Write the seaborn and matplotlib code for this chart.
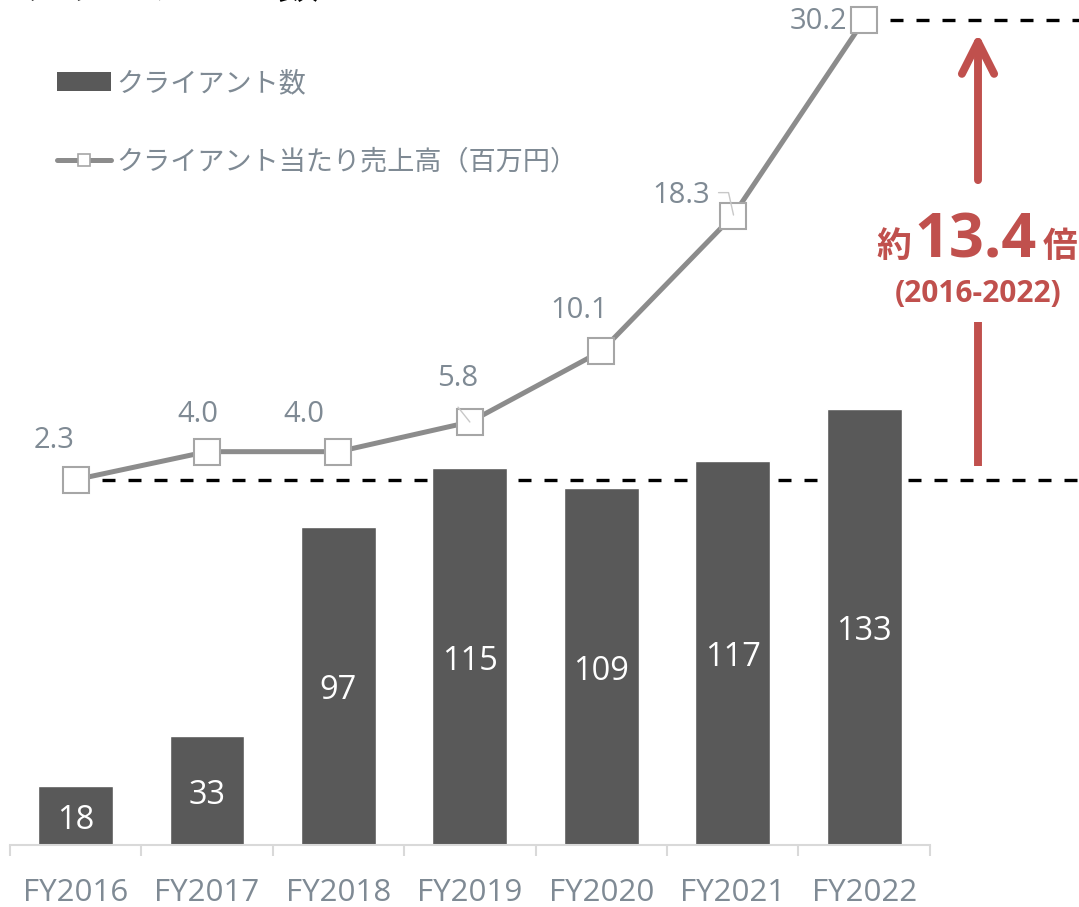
import numpy as np
import pandas as pd
import matplotlib
matplotlib.use("Agg")
import matplotlib.pyplot as plt
import matplotlib.transforms as mtransforms
from matplotlib.patches import Patch
from matplotlib.lines import Line2D
import seaborn as sns

# ---- data ----
fiscal_years = ["FY2016", "FY2017", "FY2018", "FY2019", "FY2020", "FY2021", "FY2022"]
client_counts = [18, 33, 97, 115, 109, 117, 133]
revenue_per_client = [2.3, 4.0, 4.0, 5.8, 10.1, 18.3, 30.2]  # 百万円
revenue_labels = ["2.3", "4.0", "4.0", "5.8", "10.1", "18.3", "30.2"]

title_text = "クライアント数"
bar_series_name = "クライアント数"
line_series_name = "クライアント当たり売上高（百万円）"
growth_prefix = "約"
growth_value = "13.4"
growth_suffix = "倍"
growth_period = "(2016-2022)"

# ---- style ----
sns.set_theme(style="white")
plt.rcParams["font.family"] = ["Open Sans", "Noto Sans CJK JP", "DejaVu Sans"]

BAR = "#595959"
LINE = "#8C8C8C"
MARK_EDGE = "#A6A6A6"
TEXT = "#7F8A94"
ACCENT = "#C0504D"
AXIS = "#D9D9D9"

W, H = 1079, 907
fig = plt.figure(figsize=(W / 100, H / 100), dpi=100)
ax = fig.add_axes([9.8 / W, 62.5 / H, 920.1 / W, 844.5 / H])

df = pd.DataFrame({"year": fiscal_years, "clients": client_counts,
                   "revenue": revenue_per_client})

# bars: client counts
sns.barplot(data=df, x="year", y="clients", color=BAR, saturation=1,
            width=0.57, ax=ax, zorder=1)
for i, n in enumerate(client_counts):
    ax.annotate(f"{n}", (i, n / 2), xytext=(0, -5), textcoords="offset pixels",
                ha="center", va="center", color="white", fontsize=23.5)

ax.set_xlim(-0.5, 6.5)
ax.set_ylim(0, 257.9)
ax.set_xlabel("")
ax.set_ylabel("")
ax.set_yticks([])
for side in ("left", "right", "top"):
    ax.spines[side].set_visible(False)
ax.spines["bottom"].set_color(AXIS)
ax.spines["bottom"].set_linewidth(1.5)
ax.set_xticks(np.arange(-0.5, len(fiscal_years), 1.0), minor=True)
ax.tick_params(axis="x", which="minor", length=8, width=1.5, color=AXIS,
               direction="out", bottom=True)
ax.tick_params(axis="x", which="major", length=0, pad=24, labelsize=22.5,
               labelcolor=TEXT, bottom=True)

# line: revenue per client on a secondary scale
ax2 = ax.twinx()
xpos = np.arange(len(fiscal_years))
sns.lineplot(x=xpos, y=revenue_per_client, ax=ax2, color=LINE, lw=3.6,
             marker="s", markersize=19, markerfacecolor="white",
             markeredgecolor=MARK_EDGE, markeredgewidth=1.5, zorder=3,
             legend=False)
ax2.set_ylim(-19.84, 31.41)
ax2.set_yticks([])
ax2.set_ylabel("")
for side in ("left", "right", "top", "bottom"):
    ax2.spines[side].set_visible(False)

# value labels for the line
label_offsets = [(-21, 39), (-9, 37), (-35, 37), (-12, 44), (-22, 41),
                 (-52, 21), (-46, -2)]
for x, v, txt, (dx, dy) in zip(xpos, revenue_per_client, revenue_labels,
                               label_offsets):
    ax2.annotate(txt, (x, v), xytext=(dx, dy), textcoords="offset pixels",
                 ha="center", va="center", fontsize=21, color=TEXT,
                 annotation_clip=False, zorder=5)

# short leader lines for the shifted labels
ax2.plot([3 - 0.09, 3], [5.8 + 0.9, 5.8], color="#C8C8C8", lw=1, zorder=4)
ax2.plot([5 - 0.108, 5 - 0.032, 5.006], [18.3 + 1.42, 18.3 + 1.42, 18.36],
         color="#C8C8C8", lw=1, zorder=4)

# dashed reference lines at the first and last revenue levels
trans = mtransforms.blended_transform_factory(ax.transData, ax2.transData)
for x0, level in ((0, revenue_per_client[0]), (6, revenue_per_client[-1])):
    ax.plot([x0, 8], [level, level], transform=trans, color="black", lw=2.4,
            ls=(0, (3.9, 3.9)), dash_capstyle="butt", clip_on=False,
            zorder=0.5)

# growth arrow
arrow_x = 6.866
ax2.annotate("", xy=(arrow_x, revenue_per_client[-1] - 0.8),
             xytext=(arrow_x, 20.48),
             arrowprops=dict(arrowstyle="->,head_length=1.15,head_width=0.58",
                             lw=5.7, color=ACCENT, mutation_scale=20,
                             shrinkA=0, shrinkB=0, capstyle="round",
                             joinstyle="round"),
             annotation_clip=False)
ax2.plot([arrow_x, arrow_x], [revenue_per_client[0] + 0.83, 11.87],
         color=ACCENT, lw=5.7, solid_capstyle="butt", clip_on=False)

ax2.text(6.229, 15.81, growth_prefix, ha="center", va="baseline", fontsize=25,
         fontweight="bold", color=ACCENT, family=["Noto Sans CJK JP"])
ax2.text(6.846, 15.81, growth_value, ha="center", va="baseline", fontsize=44,
         fontweight="bold", color=ACCENT)
ax2.text(7.493, 15.81, growth_suffix, ha="center", va="baseline", fontsize=25,
         fontweight="bold", color=ACCENT, family=["Noto Sans CJK JP"])
ax2.text(arrow_x, 13.08, growth_period, ha="center", va="baseline",
         fontsize=21.5, fontweight="bold", color=ACCENT)

# legend
handles = [
    Patch(facecolor=BAR, edgecolor="none"),
    Line2D([], [], color=LINE, lw=3.6, marker="s", markersize=9,
           markerfacecolor="white", markeredgecolor=MARK_EDGE,
           markeredgewidth=1.2),
]
ax.legend(handles, [bar_series_name, line_series_name], loc="upper left",
          bbox_to_anchor=(57 / W, 1 - 70 / H), bbox_transform=fig.transFigure,
          frameon=False, fontsize=19.5, handlelength=2.0, handleheight=0.72,
          handletextpad=0.2, labelspacing=1.85, borderpad=0, borderaxespad=0,
          labelcolor=TEXT)

# chart title (runs off the top edge)
fig.text(20 / W, 1 + 2 / H, title_text, fontsize=31, fontweight="bold",
         color="black", va="baseline", ha="left",
         family=["Noto Sans CJK JP"])

fig.savefig("out.png", dpi=100)
